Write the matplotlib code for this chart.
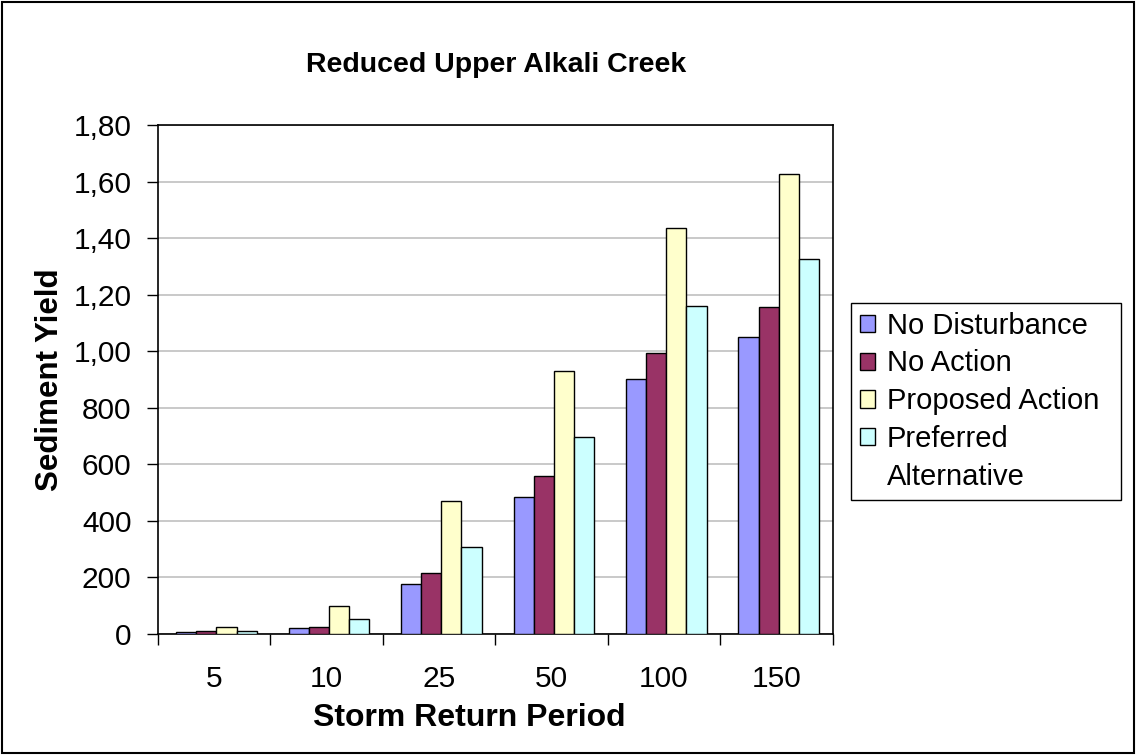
import matplotlib.pyplot as plt
import numpy as np
from matplotlib.patches import Rectangle

plt.rcParams['font.family'] = ['Liberation Sans', 'DejaVu Sans']

# storm return periods and sediment yield per scenario
periods = ['5', '10', '25', '50', '100', '150']
no_disturbance = [7, 21, 175, 486, 902, 1052]
no_action = [11, 25, 216, 557, 995, 1156]
proposed_action = [25, 100, 470, 931, 1437, 1627]
preferred_alt = [12, 53, 307, 698, 1159, 1325]

series = [no_disturbance, no_action, proposed_action, preferred_alt]
names = ['No Disturbance', 'No Action', 'Proposed Action', 'Preferred']
colors = ['#9999FF', '#993366', '#FFFFCC', '#CCFFFF']

ytick_vals = [0, 200, 400, 600, 800, 1000, 1200, 1400, 1600, 1800]
ytick_text = ['0', '200', '400', '600', '800', '1,00', '1,20', '1,40', '1,60', '1,80']

fig = plt.figure(figsize=(11.36, 7.55), dpi=100)
ax = fig.add_axes([0.139, 0.1603, 0.594, 0.6741])

x = np.arange(len(periods))
w = 0.179
bars = []
for i, (vals, name, c) in enumerate(zip(series, names, colors)):
    b = ax.bar(x + 0.02 + (i - 1.5) * w, vals, w, color=c, edgecolor='black',
               linewidth=1, label=name, zorder=3)
    bars.append(b)

ax.set_xlim(-0.5, len(periods) - 0.5)
ax.set_ylim(0, 1800)
ax.set_yticks(ytick_vals)
ax.set_yticklabels(ytick_text, fontsize=21.5)
ax.set_xticks(x)
ax.set_xticklabels(periods, fontsize=21.5)
ax.set_xticks(np.arange(-0.5, len(periods)), minor=True)
ax.tick_params(axis='x', which='major', length=0, pad=22)
ax.tick_params(axis='x', which='minor', length=8, direction='out', width=1)
ax.tick_params(axis='y', length=8, direction='out', width=1, pad=11)
ax.yaxis.grid(True, color='#c0c0c0', linewidth=1.2, zorder=0)
ax.set_axisbelow(True)
for s in ax.spines.values():
    s.set_linewidth(1.2)
    s.set_color('black')

ax.set_xlabel('Storm Return Period', fontsize=23, fontweight='bold', labelpad=13)
ax.xaxis.set_label_coords(0.462, -0.135)
ax.set_ylabel('Sediment Yield', fontsize=22.5, fontweight='bold', labelpad=6)
fig.text(0.437, 0.914, 'Reduced Upper Alkali Creek', fontsize=20.5,
         fontweight='bold', ha='center', va='center')

# second line of the last legend entry sits under its label, without a swatch
blank = Rectangle((0, 0), 1, 1, visible=False)
leg = ax.legend(bars + [blank], names + ['Alternative'], loc='upper left',
                bbox_to_anchor=(0.749, 0.344, 0.238, 0.255),
                bbox_transform=fig.transFigure, mode='expand',
                fontsize=21, fancybox=False, edgecolor='black', framealpha=1,
                borderaxespad=0, handlelength=0.52, handleheight=0.52,
                handletextpad=0.42, labelspacing=0.34, borderpad=0.3)
leg.get_frame().set_linewidth(1)

fig.patches.append(Rectangle((0.0015, 0.002), 0.997, 0.996, transform=fig.transFigure,
                             fill=False, edgecolor='black', linewidth=1.5))

fig.savefig('out.png', dpi=100)
